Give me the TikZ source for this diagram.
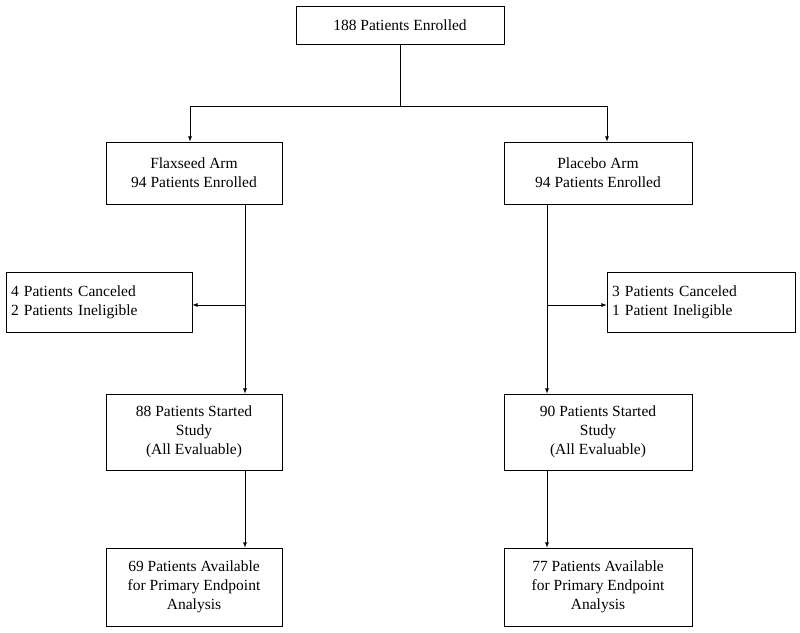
\documentclass[tikz,border=0pt]{standalone}
\usepackage{fontspec}
\setmainfont{Liberation Serif}
\begin{document}
\begin{tikzpicture}[x=1pt,y=-1pt,
  box/.style={draw,line width=0.8pt,inner sep=2pt,align=center,font=\fontsize{15.5}{19}\selectfont},
  arr/.style={-latex,line width=0.8pt},
  ln/.style={line width=0.8pt}]
\useasboundingbox (0,0) rectangle (800,632);
\node[box,minimum width=208,minimum height=38] (top) at (400,25) {188 Patients Enrolled};
\node[box,minimum width=176,minimum height=62] (fa) at (194,173) {Flaxseed Arm\\94 Patients Enrolled};
\node[box,minimum width=188,minimum height=62] (pa) at (598,173) {Placebo Arm\\94 Patients Enrolled};
\node[box,minimum width=186,minimum height=60,align=left,text width=176] (fx) at (99,302) {4 Patients Canceled\\2 Patients Ineligible};
\node[box,minimum width=188,minimum height=60,align=left,text width=178] (px) at (701,302) {3 Patients Canceled\\1 Patient Ineligible};
\node[box,minimum width=176,minimum height=76] (fs) at (194,432) {88 Patients Started\\Study\\(All Evaluable)};
\node[box,minimum width=188,minimum height=76] (ps) at (598,432) {90 Patients Started\\Study\\(All Evaluable)};
\node[box,minimum width=176,minimum height=78] (fe) at (194,587) {69 Patients Available\\for Primary Endpoint\\Analysis};
\node[box,minimum width=188,minimum height=78] (pe) at (598,587) {77 Patients Available\\for Primary Endpoint\\Analysis};
\coordinate (split) at (400,106);
\coordinate (fl) at (190,0);
\coordinate (pl) at (607,0);
\coordinate (fv) at (245,305);
\coordinate (pv) at (547,305);
\draw[ln] (top.south) -- (split);
\draw[arr] (split) -| (fa.north -| fl);
\draw[arr] (split) -| (pa.north -| pl);
\draw[arr] (fa.south -| fv) -- (fs.north -| fv);
\draw[arr] (pa.south -| pv) -- (ps.north -| pv);
\draw[arr] (fv) -- (fx.east |- fv);
\draw[arr] (pv) -- (px.west |- pv);
\draw[arr] (fs.south -| fv) -- (fe.north -| fv);
\draw[arr] (ps.south -| pv) -- (pe.north -| pv);
\end{tikzpicture}
\end{document}
